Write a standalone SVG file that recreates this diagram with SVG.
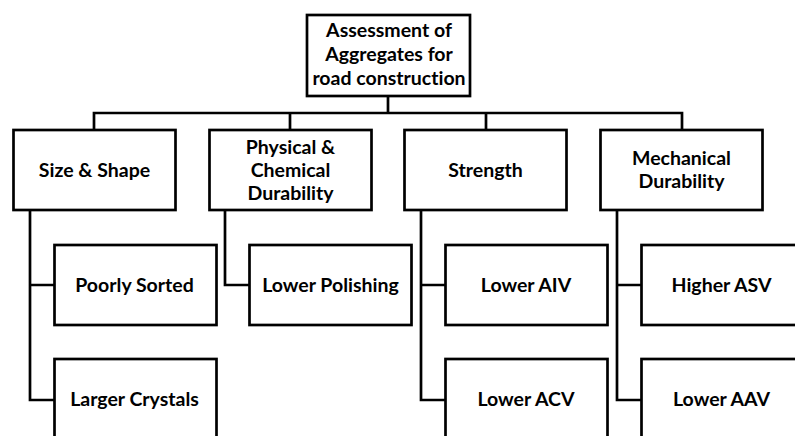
<svg xmlns="http://www.w3.org/2000/svg" width="795" height="436" viewBox="0 0 795 436">
<style>
.box{fill:#fff;stroke:#000;stroke-width:2.7}
.ln{fill:none;stroke:#000;stroke-width:2.7;stroke-linejoin:miter;stroke-linecap:square}
text{font-family:Lato,"Liberation Sans",sans-serif;font-weight:700;font-size:19.5px;text-anchor:middle;fill:#000;font-variant-ligatures:none}
</style>
<rect width="795" height="436" fill="#fff"/>
<g id="connectors">
<path class="ln" d="M388 96 V113 M94 129 V113 H682 V129 M290 113 V129 M486 113 V129"/>
<path class="ln" d="M30 211 V400 H53 M30 285 H53"/>
<path class="ln" d="M225 211 V285 H248"/>
<path class="ln" d="M421 211 V400 H444 M421 285 H444"/>
<path class="ln" d="M617 211 V400 H640 M617 285 H640"/>
</g>
<g id="root">
<rect class="box" x="307" y="15" width="163" height="81"/>
<text x="389" y="37">Assessment of</text>
<text x="389" y="61">Aggregates for</text>
<text x="389" y="85">road construction</text>
</g>
<g id="size-shape">
<rect class="box" x="13.5" y="130" width="162" height="80"/>
<text x="94.5" y="177">Size &amp; Shape</text>
</g>
<g id="physical-chemical">
<rect class="box" x="209.5" y="130" width="162" height="80"/>
<text x="290.5" y="154">Physical &amp;</text>
<text x="290.5" y="177">Chemical</text>
<text x="290.5" y="200">Durability</text>
</g>
<g id="strength">
<rect class="box" x="404.5" y="130" width="162" height="80"/>
<text x="485.5" y="177">Strength</text>
</g>
<g id="mechanical">
<rect class="box" x="600.5" y="130" width="162" height="80"/>
<text x="681.5" y="165">Mechanical</text>
<text x="681.5" y="188">Durability</text>
</g>
<g id="poorly-sorted">
<rect class="box" x="54.5" y="245" width="162" height="80"/>
<text x="134.5" y="292">Poorly Sorted</text>
</g>
<g id="larger-crystals">
<rect class="box" x="54.5" y="359" width="162" height="80"/>
<text x="134.5" y="406">Larger Crystals</text>
</g>
<g id="lower-polishing">
<rect class="box" x="249.5" y="245" width="162" height="80"/>
<text x="330.5" y="292">Lower Polishing</text>
</g>
<g id="lower-aiv">
<rect class="box" x="445.5" y="245" width="162" height="80"/>
<text x="526" y="292">Lower AIV</text>
</g>
<g id="lower-acv">
<rect class="box" x="445.5" y="359" width="162" height="80"/>
<text x="526" y="406">Lower ACV</text>
</g>
<g id="higher-asv">
<rect class="box" x="641.5" y="245" width="162" height="80"/>
<text x="721.5" y="292">Higher ASV</text>
</g>
<g id="lower-aav">
<rect class="box" x="641.5" y="359" width="162" height="80"/>
<text x="721.5" y="406">Lower AAV</text>
</g>
</svg>
